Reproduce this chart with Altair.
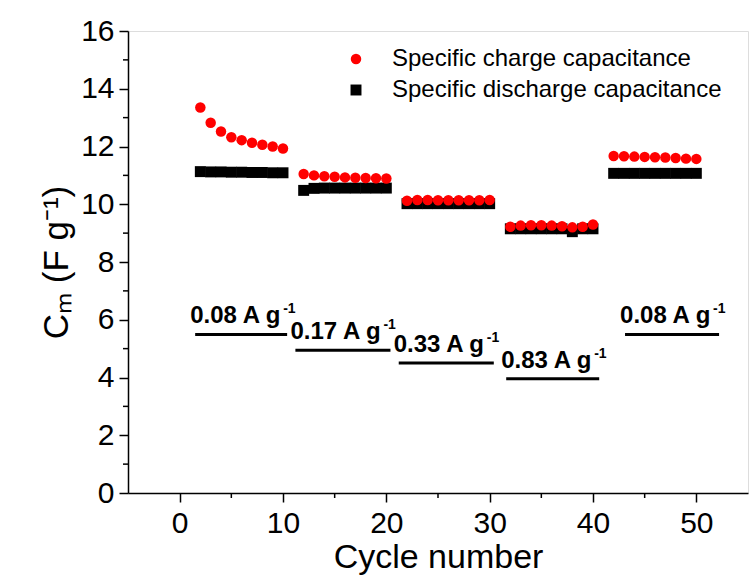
import altair as alt
import pandas as pd

# ---- data ----
cycles = [2, 3, 4, 5, 6, 7, 8, 9, 10,
          12, 13, 14, 15, 16, 17, 18, 19, 20,
          22, 23, 24, 25, 26, 27, 28, 29, 30,
          32, 33, 34, 35, 36, 37, 38, 39, 40,
          42, 43, 44, 45, 46, 47, 48, 49, 50]

charge = [13.35, 12.82, 12.52, 12.32, 12.22, 12.13, 12.06, 12.00, 11.93,
          11.05, 11.00, 10.97, 10.95, 10.93, 10.92, 10.91, 10.90, 10.89,
          10.12, 10.15, 10.15, 10.14, 10.14, 10.14, 10.14, 10.14, 10.15,
          9.22, 9.26, 9.27, 9.27, 9.26, 9.24, 9.20, 9.22, 9.30,
          11.67, 11.66, 11.65, 11.64, 11.63, 11.62, 11.60, 11.58, 11.57]

discharge = [11.13, 11.12, 11.12, 11.11, 11.11, 11.10, 11.10, 11.09, 11.09,
             10.48, 10.55, 10.56, 10.56, 10.56, 10.56, 10.56, 10.56, 10.56,
             10.02, 10.02, 10.02, 10.02, 10.02, 10.02, 10.02, 10.02, 10.02,
             9.15, 9.15, 9.15, 9.15, 9.15, 9.15, 9.05, 9.15, 9.15,
             11.07, 11.07, 11.07, 11.07, 11.07, 11.07, 11.07, 11.07, 11.07]

series_names = ["Specific charge capacitance", "Specific discharge capacitance"]

rate_labels = ["0.08 A g", "0.17 A g", "0.33 A g", "0.83 A g", "0.08 A g"]
rate_sup = ["-1", "-1", "-1", "-1", "-1"]
rate_x_start = [1.5, 11.2, 21.2, 31.6, 43.1]
rate_x_end = [10.4, 20.4, 30.4, 40.6, 52.2]
rate_y = [5.49, 4.94, 4.50, 3.96, 5.49]

x_ticks = [0, 10, 20, 30, 40, 50]
x_minor = [5, 15, 25, 35, 45]
y_ticks = [0, 2, 4, 6, 8, 10, 12, 14, 16]
y_minor = [1, 3, 5, 7, 9, 11, 13, 15]

# ---- tables ----
pts = pd.DataFrame({
    "cycle": cycles + cycles,
    "value": discharge + charge,
    "series": [series_names[1]] * len(cycles) + [series_names[0]] * len(cycles),
})
rates = pd.DataFrame({"label": rate_labels, "sup": rate_sup,
                      "x0": rate_x_start, "x1": rate_x_end, "y": rate_y})
xm = pd.DataFrame({"x": x_minor})
ym = pd.DataFrame({"y": y_minor})

W, H = 620, 462
xscale = alt.Scale(domain=[-5, 55], nice=False, zero=False)
yscale = alt.Scale(domain=[0, 16], nice=False)

leg = alt.Legend(title=None, orient="none", legendX=216, legendY=16,
                 direction="vertical", labelFontSize=24, labelFont="Liberation Sans",
                 labelColor="black", symbolSize=150, rowPadding=7, labelOffset=24,
                 labelLimit=0, padding=0, symbolStrokeWidth=0)

points = alt.Chart(pts).mark_point(filled=True, opacity=1, strokeWidth=0).encode(
    x=alt.X("cycle:Q", scale=xscale,
            axis=alt.Axis(values=x_ticks, title="Cycle number", grid=False,
                          tickSize=9, tickWidth=1.5, domainWidth=1.5,
                          labelFontSize=30, titleFontSize=34, labelPadding=6,
                          titlePadding=2, titleFontWeight="normal",
                          labelColor="black", titleColor="black",
                          domainColor="black", tickColor="black")),
    y=alt.Y("value:Q", scale=yscale,
            axis=alt.Axis(values=y_ticks, title="Cₘ  (F g⁻¹)", grid=False,
                          tickSize=9, tickWidth=1.5, domainWidth=1.5,
                          labelFontSize=30, titleFontSize=35, labelPadding=5,
                          titlePadding=6, titleFontWeight="normal",
                          labelColor="black", titleColor="black",
                          domainColor="black", tickColor="black")),
    color=alt.Color("series:N", scale=alt.Scale(domain=series_names, range=["#ff0000", "#000000"]), legend=leg),
    shape=alt.Shape("series:N", scale=alt.Scale(domain=series_names, range=["circle", "square"]), legend=leg),
    size=alt.Size("series:N", scale=alt.Scale(domain=series_names, range=[110, 120]), legend=None),
)

rules = alt.Chart(rates).mark_rule(color="black", strokeWidth=3).encode(
    x=alt.X("x0:Q", scale=xscale), x2="x1:Q", y=alt.Y("y:Q", scale=yscale))

labels = alt.Chart(rates).mark_text(align="left", baseline="alphabetic", dx=-5, dy=-11,
                                    fontSize=24, fontWeight="bold", color="black",
                                    font="Liberation Sans").encode(
    x=alt.X("x0:Q", scale=xscale), y=alt.Y("y:Q", scale=yscale), text="label:N")

sups = alt.Chart(rates).mark_text(align="left", baseline="alphabetic", dx=88, dy=-21,
                                  fontSize=14, fontWeight="bold", color="black",
                                  font="Liberation Sans").encode(
    x=alt.X("x0:Q", scale=xscale), y=alt.Y("y:Q", scale=yscale), text="sup:N")

xminor = alt.Chart(xm).mark_rule(color="black", strokeWidth=1.5).encode(
    x=alt.X("x:Q", scale=xscale), y=alt.value(H), y2=alt.value(H + 5))
yminor = alt.Chart(ym).mark_rule(color="black", strokeWidth=1.5).encode(
    y=alt.Y("y:Q", scale=yscale), x=alt.value(-5), x2=alt.value(0))

chart = alt.layer(points, rules, labels, sups, xminor, yminor).properties(
    width=W, height=H,
    autosize=alt.AutoSizeParams(type="none"),
    padding={"left": 128, "top": 31, "right": 2, "bottom": 86},
    background="white",
).configure_view(stroke="black", strokeWidth=1.5).configure(
    font="Liberation Sans")

chart.save("out.html", embed_options={"renderer": "svg", "actions": False})
